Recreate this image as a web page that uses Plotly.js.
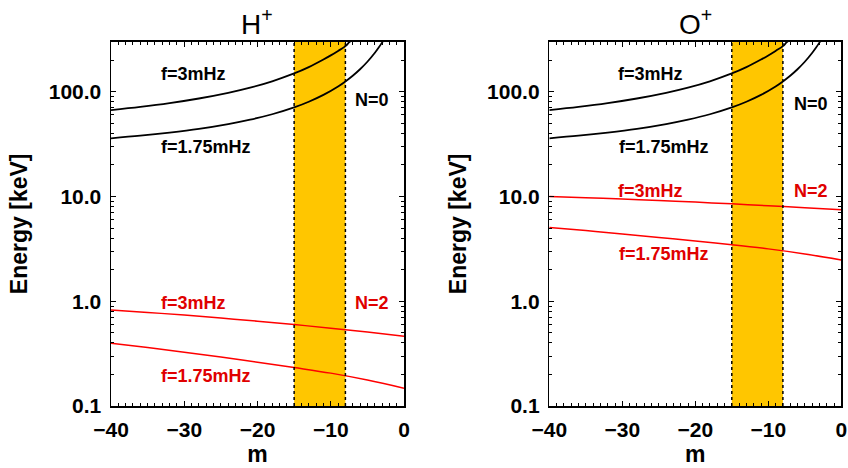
<!DOCTYPE html>
<html>
<head>
<meta charset="utf-8">
<script src="https://cdn.plot.ly/plotly-3.0.1.min.js"></script>
<style>html,body{margin:0;padding:0;background:#fff;}#chart{width:848px;height:468px;}</style>
</head>
<body>
<div id="chart"></div>
<script>
// ---- data ----
const panelTitles = ["H<sup>+</sup>", "O<sup>+</sup>"];
const bandM = [-15, -8];

// N=0 (same in both panels)
const m_N0_f3 = [-40, -36, -32, -28, -24, -21, -18, -15, -13, -11, -10, -9, -8, -7.5, -7];
const E_N0_f3 = [66.8, 71.6, 77.8, 86.1, 97.5, 109.3, 125.7, 149.3, 171.7, 202.8, 222, 245, 272, 295, 318];
const m_N0_f175 = [-40, -36, -32, -28, -24, -21, -18, -15, -13, -11, -9, -8, -7, -6, -5, -4, -3.5, -3, -2.5];
const E_N0_f175 = [35.9, 38.0, 40.7, 44.2, 49.1, 54.1, 60.9, 70.8, 80.2, 93.2, 112.2, 125.3, 142, 163.8, 193.1, 234, 261, 294, 335];

// N=2, H+
const m_H_N2_f3 = [-40, -35, -30, -25, -20, -15, -10, -5, 0];
const E_H_N2_f3 = [0.826, 0.782, 0.737, 0.691, 0.645, 0.599, 0.553, 0.508, 0.464];
const m_H_N2_f175 = [-40, -35, -30, -25, -20, -15, -10, -5, 0];
const E_H_N2_f175 = [0.398, 0.361, 0.326, 0.293, 0.262, 0.233, 0.206, 0.177, 0.148];

// N=2, O+
const m_O_N2_f3 = [-40, -35, -30, -25, -20, -15, -10, -5, 0];
const E_O_N2_f3 = [10.0, 9.73, 9.45, 9.15, 8.83, 8.50, 8.16, 7.80, 7.45];
const m_O_N2_f175 = [-40, -35, -30, -25, -20, -15, -10, -5, 0];
const E_O_N2_f175 = [5.06, 4.72, 4.38, 4.06, 3.75, 3.46, 3.16, 2.83, 2.48];

const xTickVals = [-40, -30, -20, -10, 0];
const yTickVals = [0.1, 1, 10, 100];
const yTickText = ["0.1", "1.0", "10.0", "100.0"];

// ---- styling ----
const BLACK = "#000000", RED = "#ff0000", RED_TXT = "#e00000", BAND = "#ffc600";
const FONT = "Liberation Sans, Arial, sans-serif";

function tr(x, y, color, xa, ya, w) {
  return {x: x, y: y, type: "scatter", mode: "lines", xaxis: xa, yaxis: ya,
          line: {color: color, width: w, shape: "spline", smoothing: 1}, hoverinfo: "skip", showlegend: false};
}

const traces = [
  tr(m_N0_f3, E_N0_f3, BLACK, "x", "y", 1.8),
  tr(m_N0_f175, E_N0_f175, BLACK, "x", "y", 1.8),
  tr(m_H_N2_f3, E_H_N2_f3, RED, "x", "y", 1.5),
  tr(m_H_N2_f175, E_H_N2_f175, RED, "x", "y", 1.5),
  tr(m_N0_f3, E_N0_f3, BLACK, "x2", "y2", 1.8),
  tr(m_N0_f175, E_N0_f175, BLACK, "x2", "y2", 1.8),
  tr(m_O_N2_f3, E_O_N2_f3, RED, "x2", "y2", 1.5),
  tr(m_O_N2_f175, E_O_N2_f175, RED, "x2", "y2", 1.5)
];

const tickFont = {family: FONT, size: 21, color: BLACK, weight: "bold"};

function xaxis(domain, anchor) {
  return {domain: domain, anchor: anchor, range: [-40, 0], tickvals: xTickVals,
    ticks: "inside", ticklen: 5, tickwidth: 1.2, tickcolor: BLACK,
    minor: {dtick: 1, ticks: "inside", ticklen: 3, tickwidth: 1, tickcolor: BLACK, showgrid: false},
    mirror: "allticks", showline: true, linecolor: BLACK, linewidth: 1.5,
    showgrid: false, zeroline: false, tickfont: tickFont,
    ticklabelstandoff: 4,
    title: {text: "m", font: {family: FONT, size: 23, color: BLACK, weight: "bold"}, standoff: 2}};
}
function yaxis(domain, anchor) {
  return {domain: domain, anchor: anchor, type: "log", range: [-1, Math.log10(300)],
    tickvals: yTickVals, ticktext: yTickText,
    ticks: "inside", ticklen: 5, tickwidth: 1.2, tickcolor: BLACK,
    minor: {dtick: "D1", ticks: "inside", ticklen: 3, tickwidth: 1, tickcolor: BLACK, showgrid: false},
    mirror: "allticks", showline: true, linecolor: BLACK, linewidth: 1.5,
    showgrid: false, zeroline: false, tickfont: tickFont,
    ticklabelstandoff: 4,
    title: {text: "Energy [keV]", font: {family: FONT, size: 23, color: BLACK, weight: "bold"}, standoff: 14}};
}

const yDom = [62 / 468, 426.3 / 468];
const xDom1 = [111 / 848, 404 / 848];
const xDom2 = [549.3 / 848, 841.3 / 848];

const shapes = [];
[["x", "y"], ["x2", "y2"]].forEach(([xa, ya]) => {
  shapes.push({type: "rect", xref: xa, yref: ya + " domain", x0: bandM[0], x1: bandM[1], y0: 0, y1: 1,
               fillcolor: BAND, line: {width: 0}, layer: "below"});
  bandM.forEach(v => shapes.push({type: "line", xref: xa, yref: ya + " domain", x0: v, x1: v, y0: 0, y1: 1,
               line: {color: BLACK, width: 1.5, dash: "dot"}, layer: "above"}));
});

function lab(text, xa, ya, x, logy, color) {
  return {text: text, xref: xa, yref: ya, x: x, y: logy, showarrow: false,
          xanchor: "center", yanchor: "middle", font: {family: FONT, size: 18, color: color, weight: "bold"}};
}
const annotations = [
  lab("f=3mHz", "x", "y", -28.8, 2.165, BLACK),
  lab("f=1.75mHz", "x", "y", -27.0, 1.472, BLACK),
  lab("N=0", "x", "y", -4.4, 1.924, BLACK),
  lab("f=3mHz", "x", "y", -28.8, -0.019, RED_TXT),
  lab("N=2", "x", "y", -4.4, -0.019, RED_TXT),
  lab("f=1.75mHz", "x", "y", -27.0, -0.712, RED_TXT),
  lab("f=3mHz", "x2", "y2", -26.1, 2.165, BLACK),
  lab("f=1.75mHz", "x2", "y2", -24.25, 1.472, BLACK),
  lab("N=0", "x2", "y2", -4.2, 1.886, BLACK),
  lab("f=3mHz", "x2", "y2", -26.1, 1.048, RED_TXT),
  lab("N=2", "x2", "y2", -4.2, 1.048, RED_TXT),
  lab("f=1.75mHz", "x2", "y2", -24.25, 0.454, RED_TXT),
  {text: panelTitles[0], xref: "paper", yref: "paper", x: 257 / 848, y: 1 - 22 / 468, showarrow: false,
   xanchor: "center", yanchor: "middle", font: {family: FONT, size: 28, color: BLACK}},
  {text: panelTitles[1], xref: "paper", yref: "paper", x: 695 / 848, y: 1 - 22 / 468, showarrow: false,
   xanchor: "center", yanchor: "middle", font: {family: FONT, size: 28, color: BLACK}}
];

const layout = {
  width: 848, height: 468,
  margin: {l: 0, r: 0, t: 0, b: 0, autoexpand: false},
  paper_bgcolor: "#ffffff", plot_bgcolor: "#ffffff",
  showlegend: false,
  xaxis: xaxis(xDom1, "y"), yaxis: yaxis(yDom, "x"),
  xaxis2: xaxis(xDom2, "y2"), yaxis2: yaxis(yDom, "x2"),
  shapes: shapes, annotations: annotations,
  font: {family: FONT, color: BLACK}
};

Plotly.newPlot("chart", traces, layout, {staticPlot: true, displayModeBar: false});
</script>
</body>
</html>
